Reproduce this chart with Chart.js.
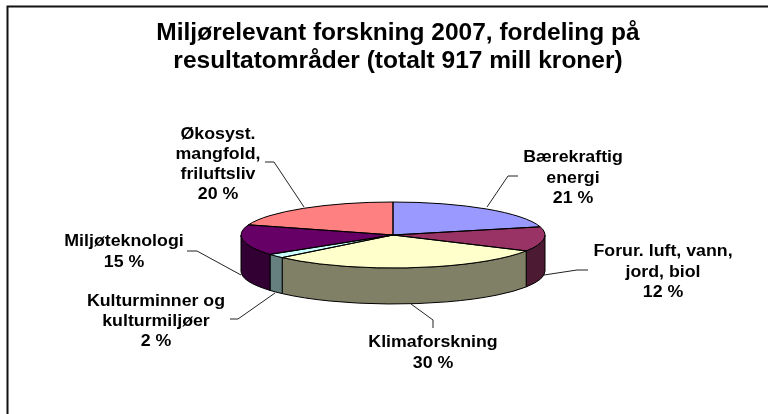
<!DOCTYPE html>
<html>
<head>
<meta charset="utf-8">
<title>Miljørelevant forskning 2007</title>
<script src="https://cdn.jsdelivr.net/npm/chart.js@4/dist/chart.umd.min.js"></script>
<style>
  html, body { margin: 0; padding: 0; background: #fff; overflow: hidden; }
  canvas { display: block; }
</style>
</head>
<body>
<canvas id="pie" width="768" height="414"></canvas>
<script>
// data
const titleLines = ['Miljørelevant forskning 2007, fordeling på', 'resultatområder (totalt 917 mill kroner)'];
const categories = [
    ['Bærekraftig', 'energi'],
    ['Forur. luft, vann,', 'jord, biol'],
    ['Klimaforskning'],
    ['Kulturminner og', 'kulturmiljøer'],
    ['Miljøteknologi'],
    ['Økosyst.', 'mangfold,', 'friluftsliv']
];
const shares = [21, 12, 30, 2, 15, 20];

// styling, separate from the data
const topColors = ['#9999ff', '#993366', '#ffffcc', '#ccffff', '#660066', '#ff8080'];
const sideColors = ['#4d4d80', '#4d1a33', '#808066', '#668080', '#330033', '#804040'];
const squash = 33 / 152;  // flattening of the pie
const depth = 36;         // height of the side wall

// where each label sits (centre x, y of first line) and its leader line
const labelSpots = [
    {x: 573, y: 158, gap: 20.5, leader: [[518, 176], [508, 176], [487, 207]]},
    {x: 663, y: 252, gap: 20.5, leader: [[588, 270], [577, 270], [544, 275]]},
    {x: 433, y: 343, gap: 21, leader: [[433, 328], [433, 320], [411, 304]]},
    {x: 156, y: 302, gap: 20, leader: [[230, 319], [238, 319], [275, 293]]},
    {x: 124, y: 242, gap: 21, leader: [[187, 251], [197, 251], [241, 275]]},
    {x: 218, y: 135, gap: 20, leader: [[265, 162], [274, 162], [304, 207]]}
];

function wideText(ctx, str, x, y, stretch) {
    ctx.save();
    ctx.translate(x, y);
    ctx.scale(stretch, 1);
    ctx.fillText(str, 0, 0);
    ctx.restore();
}

// flattens the pie and adds the wall, frame, leaders and text
const pie3d = {
    id: 'pie3d',
    beforeDraw(chart) {
        const ctx = chart.ctx;
        ctx.save();
        ctx.strokeStyle = '#111';
        ctx.lineWidth = 2;
        ctx.beginPath();
        ctx.moveTo(7.5, 414);
        ctx.lineTo(7.5, 6.5);
        ctx.lineTo(768, 6.5);
        ctx.stroke();
        ctx.restore();
    },
    beforeDatasetsDraw(chart) {
        const ctx = chart.ctx;
        const arcs = chart.getDatasetMeta(0).data;
        ctx.save();
        ctx.strokeStyle = '#000';
        ctx.lineWidth = 1;
        arcs.forEach((arc, i) => {
            // only the front half of the rim shows
            const a = Math.max(arc.startAngle, 0);
            const b = Math.min(arc.endAngle, Math.PI);
            if (b <= a) return;
            const rx = arc.outerRadius;
            const ry = rx * squash;
            ctx.fillStyle = sideColors[i];
            ctx.beginPath();
            ctx.ellipse(arc.x, arc.y, rx, ry, 0, a, b);
            ctx.ellipse(arc.x, arc.y + depth, rx, ry, 0, b, a, true);
            ctx.closePath();
            ctx.fill();
            ctx.stroke();
        });
        ctx.restore();

        const cy = arcs[0].y;
        ctx.save();
        ctx.translate(0, cy);
        ctx.scale(1, squash);
        ctx.translate(0, -cy);
    },
    afterDatasetsDraw(chart) {
        const ctx = chart.ctx;
        const arcs = chart.getDatasetMeta(0).data;
        ctx.restore();

        // outlines drawn unflattened so the line keeps its width
        ctx.save();
        ctx.strokeStyle = '#000';
        ctx.lineWidth = 1;
        arcs.forEach((arc) => {
            const rx = arc.outerRadius;
            ctx.beginPath();
            ctx.moveTo(arc.x, arc.y);
            ctx.ellipse(arc.x, arc.y, rx, rx * squash, 0, arc.startAngle, arc.endAngle);
            ctx.closePath();
            ctx.stroke();
        });

        ctx.strokeStyle = '#222';
        labelSpots.forEach((spot) => {
            ctx.beginPath();
            spot.leader.forEach((p, k) => k ? ctx.lineTo(p[0], p[1]) : ctx.moveTo(p[0], p[1]));
            ctx.stroke();
        });

        ctx.fillStyle = '#000';
        ctx.textAlign = 'center';
        ctx.textBaseline = 'middle';
        ctx.font = 'bold 16px "Liberation Sans", Arial, sans-serif';
        categories.forEach((lines, i) => {
            const spot = labelSpots[i];
            lines.concat(shares[i] + ' %').forEach((line, k) => {
                wideText(ctx, line, spot.x, spot.y + k * spot.gap, 1.11);
            });
        });

        ctx.font = 'bold 24.5px "Liberation Sans", Arial, sans-serif';
        titleLines.forEach((line, k) => {
            ctx.fillText(line, 398, 33 + k * 28);
        });
        ctx.restore();
    }
};

new Chart(document.getElementById('pie').getContext('2d'), {
    type: 'pie',
    plugins: [pie3d],
    data: {
        labels: categories.map(c => c.join(' ')),
        datasets: [{
            data: shares,
            backgroundColor: topColors,
            borderWidth: 0,
            clip: false
        }]
    },
    options: {
        responsive: false,
        animation: false,
        layout: {padding: {left: 241, right: 223, top: 83, bottom: 27}},
        plugins: {
            legend: {display: false},
            title: {display: false},
            tooltip: {enabled: false}
        }
    }
});
</script>
</body>
</html>
